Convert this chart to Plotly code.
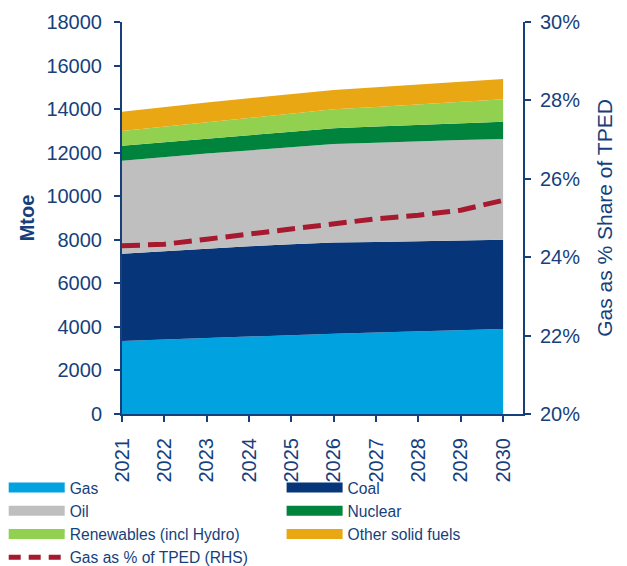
import plotly.graph_objects as go

years = [2021, 2022, 2023, 2024, 2025, 2026, 2027, 2028, 2029, 2030]

gas = [3350, 3420, 3500, 3570, 3630, 3690, 3740, 3790, 3850, 3900]
coal = [4010, 4060, 4100, 4130, 4170, 4180, 4160, 4150, 4120, 4100]
oil = [4270, 4320, 4360, 4400, 4450, 4530, 4560, 4590, 4610, 4630]
nuclear = [690, 690, 690, 700, 710, 720, 740, 750, 770, 790]
renewables = [680, 710, 750, 800, 840, 870, 900, 940, 990, 1030]
other_solid = [880, 900, 900, 900, 900, 890, 900, 910, 920, 930]

gas_share = [24.29, 24.33, 24.46, 24.59, 24.72, 24.84, 24.98, 25.07, 25.2, 25.45]

# name, values, colour, which legend column
series = [
    ("Gas", gas, "#00A3E0", "legend"),
    ("Coal", coal, "#06357A", "legend2"),
    ("Oil", oil, "#BFBFBF", "legend"),
    ("Nuclear", nuclear, "#00843D", "legend2"),
    ("Renewables (incl Hydro)", renewables, "#92D050", "legend"),
    ("Other solid fuels", other_solid, "#E9A713", "legend2"),
]

navy = "#163F7C"
red = "#A6192E"
font_family = "Liberation Sans, Arial, sans-serif"

fig = go.Figure()

for name, vals, color, leg in series:
    fig.add_trace(go.Scatter(
        x=years, y=vals, name=name, stackgroup="one",
        mode="lines", line=dict(width=0, color=color),
        fillcolor=color, showlegend=False,
    ))

fig.add_trace(go.Scatter(
    x=years, y=gas_share, name="Gas as % of TPED (RHS)", yaxis="y2",
    mode="lines", line=dict(color=red, width=5, dash="18px,8px"),
    showlegend=False,
))

# legend entries drawn as wide line swatches
for name, vals, color, leg in series:
    fig.add_trace(go.Scatter(
        x=[None], y=[None], name=name, mode="lines",
        line=dict(color=color, width=10), legend=leg,
    ))
fig.add_trace(go.Scatter(
    x=[None], y=[None], name="Gas as % of TPED (RHS)", mode="lines",
    line=dict(color=red, width=5, dash="12px,8px"), legend="legend",
))

axis_style = dict(
    showline=True, linecolor=navy, linewidth=2,
    ticks="outside", ticklen=6, tickcolor=navy, tickwidth=2,
    showgrid=False, zeroline=False, automargin=False,
)
legend_style = dict(
    orientation="v", yanchor="top", xanchor="left", y=-0.145,
    font=dict(size=15.6, color=navy), traceorder="normal",
    itemwidth=56, tracegroupgap=0, bgcolor="rgba(0,0,0,0)",
)

# page body adds 8px offset, so margins are shifted by that much
fig.update_layout(
    width=627, height=566,
    margin=dict(l=114, r=112, t=14, b=160, autoexpand=False),
    plot_bgcolor="white", paper_bgcolor="white",
    font=dict(family=font_family, size=20, color=navy),
    xaxis=dict(range=[2021, 2030.47], tickvals=years, tickangle=-90,
               ticklabelstandoff=8, **axis_style),
    yaxis=dict(
        range=[0, 18000], dtick=2000, tickformat="d", ticklabelstandoff=8,
        title=dict(text="<b>Mtoe</b>", font=dict(size=20), standoff=6),
        **axis_style,
    ),
    yaxis2=dict(
        overlaying="y", side="right", range=[20, 30],
        tickvals=[20, 22, 24, 26, 28, 30],
        ticktext=["20%", "22%", "24%", "26%", "28%", "30%"],
        ticklabelstandoff=5,
        title=dict(text="Gas as % Share of TPED", font=dict(size=21), standoff=18),
        **axis_style,
    ),
    legend=dict(x=-0.295, **legend_style),
    legend2=dict(x=0.398, **legend_style),
)

fig.write_html("out.html")
